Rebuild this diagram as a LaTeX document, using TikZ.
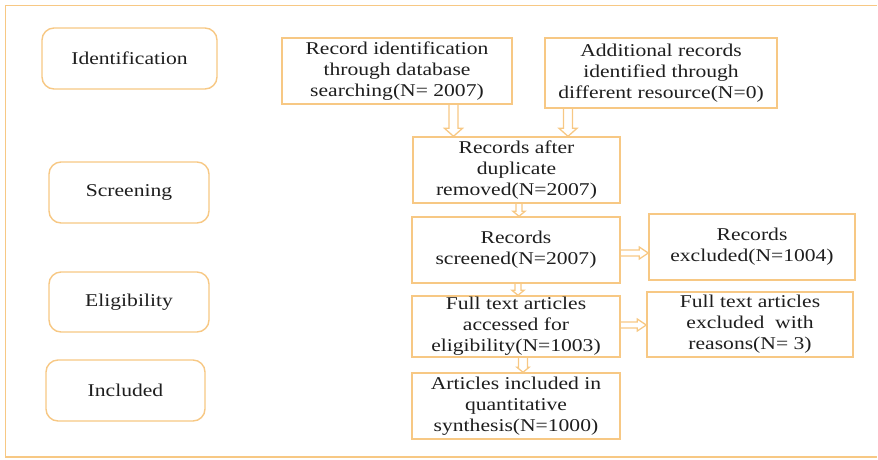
\documentclass[tikz,border=0pt]{standalone}
\usepackage{fontspec}
\setmainfont{Liberation Serif}
\newfontfamily\wideserif[FakeStretch=1.2]{Liberation Serif}
\usetikzlibrary{calc}
\definecolor{ora}{RGB}{247,200,132}
\definecolor{txt}{RGB}{30,30,30}
\tikzset{
  box/.style={draw=ora, line width=1.4pt, fill=white, inner sep=0pt, align=center, text=txt,
    font=\wideserif\fontsize{18}{21}\selectfont},
  phase/.style={box, rounded corners=12pt},
  arrowline/.style={draw=ora, line width=1.3pt, line join=miter}
}
\newcommand\varr[6]{\draw[arrowline] let \p1=(#2.south), \p2=(#3.north), \p3=(#1,0) in
  (\x3-#4pt,\y1) -- (\x3-#4pt,\y2+#6pt) -- (\x3-#5pt,\y2+#6pt) -- (\x3,\y2) -- (\x3+#5pt,\y2+#6pt) -- (\x3+#4pt,\y2+#6pt) -- (\x3+#4pt,\y1);}
\newcommand\harr[6]{\draw[arrowline] let \p1=(#2.east), \p2=(#3.west), \p3=(0,#1) in
  (\x1,\y3+#4pt) -- (\x2-#6pt,\y3+#4pt) -- (\x2-#6pt,\y3+#5pt) -- (\x2,\y3) -- (\x2-#6pt,\y3-#5pt) -- (\x2-#6pt,\y3-#4pt) -- (\x1,\y3-#4pt);}
\begin{document}
\begin{tikzpicture}[x=1pt,y=-1pt]
\useasboundingbox (0,0) rectangle (878,459);
\draw[ora, line width=1.6pt] (877,5.5) -- (5.5,5.5) -- (5.5,457) -- (877,457);

\node[phase, minimum width=175pt, minimum height=61pt] (ident) at (129.5,58.5) {Identification};
\node[phase, minimum width=160pt, minimum height=61pt] (screen) at (129,192.5) {Screening};
\node[phase, minimum width=160pt, minimum height=60pt] (elig) at (129,302) {Eligibility};
\node[phase, minimum width=159pt, minimum height=61pt] (incl) at (125.5,390.5) {Included};

\node[box, minimum width=230pt, minimum height=66pt] (rid) at (397,71) {Record identification\\through database\\searching(N= 2007)};
\node[box, minimum width=232pt, minimum height=70pt] (add) at (661,73) {Additional records\\identified through\\different resource(N=0)};
\node[box, minimum width=207pt, minimum height=66pt] (dup) at (516.5,170) {Records after\\duplicate\\removed(N=2007)};
\node[box, minimum width=208pt, minimum height=66pt] (scr) at (516,250) {Records\\screened(N=2007)};
\node[box, minimum width=208pt, minimum height=61pt] (full) at (516,326.5) {Full text articles\\accessed for\\eligibility(N=1003)};
\node[box, minimum width=208pt, minimum height=66pt] (art) at (516,406) {Articles included in\\quantitative\\synthesis(N=1000)};
\node[box, minimum width=206pt, minimum height=66pt] (rexc) at (752,247) {Records\\excluded(N=1004)};
\node[box, minimum width=206pt, minimum height=65pt] (fexc) at (750,324.5) {Full text articles\\excluded~ with\\reasons(N= 3)};

\varr{453.5}{rid}{dup}{4.5}{9}{8}
\varr{568}{add}{dup}{4.5}{9}{8}
\varr{519}{dup}{scr}{3}{6}{5}
\varr{518}{scr}{full}{3}{6}{5}
\varr{523}{full}{art}{4.5}{6}{5}
\harr{253}{scr}{rexc}{3}{6}{9}
\harr{325}{full}{fexc}{3}{6}{9}
\end{tikzpicture}
\end{document}
